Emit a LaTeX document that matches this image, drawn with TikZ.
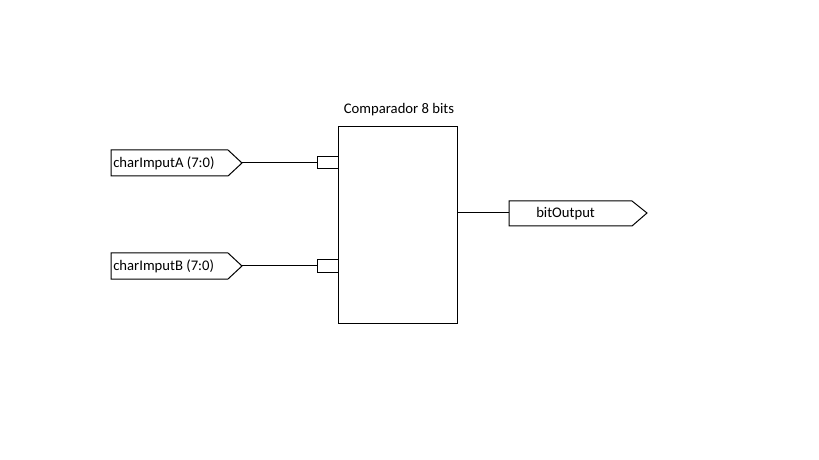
\documentclass[tikz,border=0pt]{standalone}
\usepackage{fontspec}
\setmainfont{Carlito}
\begin{document}
\begin{tikzpicture}[x=0.75pt,y=-0.75pt,
  wire/.style={draw=black,line width=0.75pt},
  lbl/.style={font=\fontsize{11pt}{13pt}\selectfont,inner sep=0pt,anchor=west},
  pinbox/.style={draw=black,line width=0.75pt,fill=white}]
\useasboundingbox (0,0) rectangle (819,460);
% main block
\node[draw=black,line width=0.75pt,minimum width=89.25pt,minimum height=147pt,inner sep=0pt] (cmp) at (397.5,225) {};
\node[font=\fontsize{11pt}{13pt}\selectfont,inner sep=0pt] (title) at (399,110) {Comparador 8 bits};
% port boxes
\node[pinbox,minimum width=15.75pt,minimum height=9pt,inner sep=0pt] (pa) at (327.5,163) {};
\node[pinbox,minimum width=15.75pt,minimum height=9pt,inner sep=0pt] (pb) at (327.5,266) {};
% input pin A
\coordinate (ina) at (242,163);
\draw[pinbox] (111,150) -- (228,150) -- (ina) -- (228,176) -- (111,176) -- cycle;
\node[lbl] (ta) at (113,163.5) {charImputA (7:0)};
% input pin B
\coordinate (inb) at (242,266);
\draw[pinbox] (111,253) -- (228,253) -- (inb) -- (228,279) -- (111,279) -- cycle;
\node[lbl] (tb) at (113,266.5) {charImputB (7:0)};
% output pin
\coordinate (outl) at (509,213);
\draw[pinbox] (509,201) -- (632,201) -- (647,213) -- (632,226) -- (509,226) -- cycle;
\node[lbl] (to) at (536,213.5) {bitOutput};
% wires
\draw[wire] (ina) -- (pa.west);
\draw[wire] (inb) -- (pb.west);
\draw[wire] (cmp.east |- outl) -- (outl);
\end{tikzpicture}
\end{document}
